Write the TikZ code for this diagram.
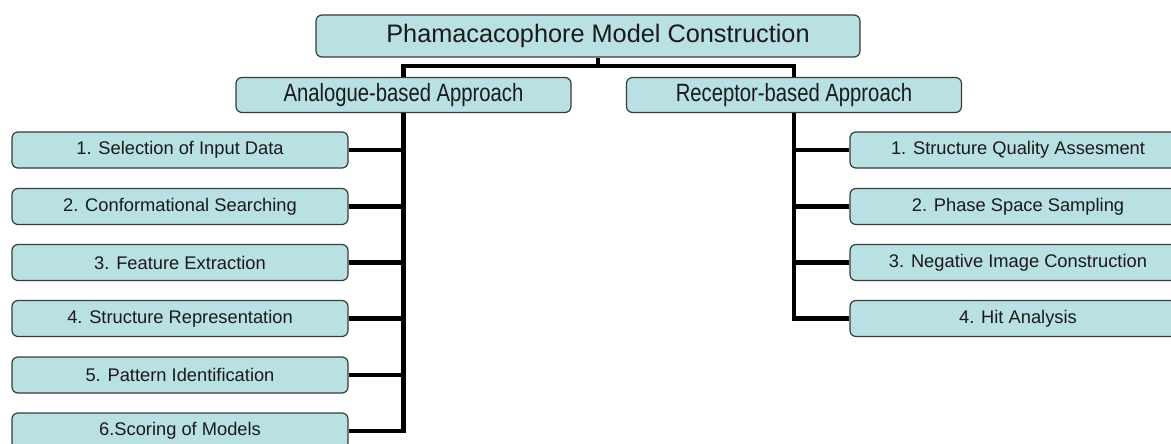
\documentclass[tikz,border=0pt]{standalone}
\usepackage{fontspec}
\setmainfont{Liberation Sans}
\newfontfamily\narrowfont[FakeStretch=0.81]{Liberation Sans}
\definecolor{boxfill}{HTML}{B9E0E3}
\definecolor{boxline}{HTML}{3A3A3A}
\definecolor{txt}{HTML}{1A1A1A}
\begin{document}
\begin{tikzpicture}[x=1pt,y=-1pt,
  box/.style={draw=boxline,line width=1.2pt,fill=boxfill,rounded corners=6pt,
    inner sep=0pt,text=txt,align=center},
  titlebox/.style={box,minimum width=544pt,minimum height=42pt,font=\fontsize{25.3}{30}\selectfont},
  subbox/.style={box,minimum width=335pt,minimum height=35pt,font=\narrowfont\fontsize{25}{30}\selectfont},
  leaf/.style={box,minimum width=336pt,minimum height=36pt,font=\fontsize{18.3}{22}\selectfont},
  conn/.style={line width=4.4pt,black}]
\path[use as bounding box,clip] (0,0) rectangle (1171,444);

\node[titlebox] (top) at (588,36) {\hspace*{20pt}Phamacacophore Model Construction};
\node[subbox] (ana) at (403.5,95) {Analogue-based Approach};
\node[subbox] (rec) at (794,95) {Receptor-based Approach};

\node[leaf] (l1) at (180,150) {1. Selection of Input Data};
\node[leaf] (l2) at (180,206.5) {2. Conformational Searching};
\node[leaf] (l3) at (180,262.5) {3. Feature Extraction};
\node[leaf] (l4) at (180,318.5) {4. Structure Representation};
\node[leaf] (l5) at (180,375) {5. Pattern Identification};
\node[leaf] (l6) at (180,431) {6.Scoring of Models};

\node[leaf] (r1) at (1018,150) {1. Structure Quality Assesment};
\node[leaf] (r2) at (1018,206.5) {2. Phase Space Sampling};
\node[leaf] (r3) at (1018,262.5) {3. Negative Image Construction};
\node[leaf] (r4) at (1018,318.5) {4. Hit Analysis};

\coordinate (j) at (598,66);
\draw[conn] (ana.north) |- (j) -| (rec.north);
\draw[conn] (j) -- (j |- top.south);

\draw[conn] (ana.south) |- (l6.east);
\foreach \n in {l1,l2,l3,l4,l5}
  \draw[conn] (\n.east) -- (\n.east -| ana.south);

\draw[conn] (rec.south) |- (r4.west);
\foreach \n in {r1,r2,r3}
  \draw[conn] (\n.west) -- (\n.west -| rec.south);
\end{tikzpicture}
\end{document}
